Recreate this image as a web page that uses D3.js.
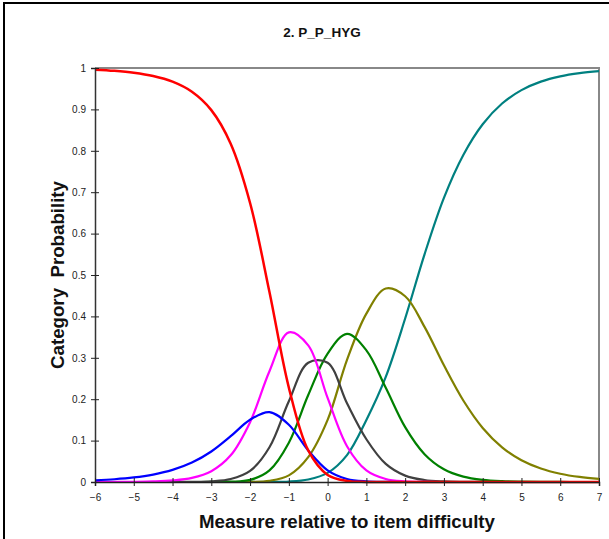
<!DOCTYPE html>
<html>
<head>
<meta charset="utf-8">
<script src="https://cdn.jsdelivr.net/npm/d3@7"></script>
<style>
  html, body { margin: 0; padding: 0; background: #fff; }
  svg { display: block; font-family: Arial, "Liberation Sans", sans-serif; }
</style>
</head>
<body>
<div id="stage"></div>
<script>
// measure (logits relative to item difficulty), sampled every 0.5
var measures = [-6, -5.5, -5, -4.5, -4, -3.5, -3, -2.5, -2, -1.5, -1, -0.5, 0, 0.5, 1, 1.5, 2, 2.5, 3, 3.5, 4, 4.5, 5, 5.5, 6, 6.5, 7];

// category probabilities
var cat0 = [0.9959, 0.9931, 0.9885, 0.9806, 0.9669, 0.9426, 0.8983, 0.8171, 0.6740, 0.4590, 0.2281, 0.0762, 0.0171, 0.0027, 0.0003, 0, 0, 0, 0, 0, 0, 0, 0, 0, 0, 0, 0];
var cat1 = [0.0041, 0.0067, 0.0110, 0.0180, 0.0292, 0.0469, 0.0737, 0.1106, 0.1504, 0.1689, 0.1383, 0.0762, 0.0282, 0.0074, 0.0014, 0.0002, 0, 0, 0, 0, 0, 0, 0, 0, 0, 0, 0];
var cat2 = [0.0001, 0.0002, 0.0005, 0.0014, 0.0038, 0.0101, 0.0261, 0.0644, 0.1445, 0.2675, 0.3613, 0.3300, 0.2030, 0.0864, 0.0279, 0.0072, 0.0015, 0.0003, 0, 0, 0, 0, 0, 0, 0, 0, 0];
var cat3 = [0, 0, 0, 0, 0.0001, 0.0004, 0.0018, 0.0072, 0.0267, 0.0840, 0.1950, 0.2880, 0.2880, 0.1900, 0.1033, 0.0437, 0.0154, 0.0047, 0.0013, 0.0003, 0.0001, 0, 0, 0, 0, 0, 0];
var cat4 = [0, 0, 0, 0, 0, 0, 0.0001, 0.0007, 0.0050, 0.0280, 0.0950, 0.2100, 0.3100, 0.3580, 0.3180, 0.2275, 0.1324, 0.0671, 0.0306, 0.0130, 0.0052, 0.0020, 0.0008, 0.0003, 0.0001, 0, 0];
var cat5 = [0, 0, 0, 0, 0, 0, 0, 0, 0.0004, 0.0030, 0.0160, 0.0600, 0.1500, 0.2950, 0.4067, 0.4674, 0.4487, 0.3746, 0.2818, 0.1968, 0.1306, 0.0838, 0.0526, 0.0326, 0.0200, 0.0122, 0.0075];
var cat6 = [0, 0, 0, 0, 0, 0, 0, 0, 0, 0.0002, 0.0010, 0.0060, 0.0220, 0.0650, 0.1500, 0.2540, 0.3950, 0.5500, 0.6863, 0.7899, 0.8641, 0.9142, 0.9466, 0.9671, 0.9799, 0.9877, 0.9925];

var seriesColors = ['#ff0000', '#0000ff', '#ff00ff', '#404040', '#008000', '#808000', '#008080'];

var xTicks = [-6, -5, -4, -3, -2, -1, 0, 1, 2, 3, 4, 5, 6, 7];
var yTicks = [0, 0.1, 0.2, 0.3, 0.4, 0.5, 0.6, 0.7, 0.8, 0.9, 1];
var yTickLabels = ['0', '0.1', '0.2', '0.3', '0.4', '0.5', '0.6', '0.7', '0.8', '0.9', '1'];

var chartTitle = '2. P_P_HYG';
var xTitle = 'Measure relative to item difficulty';
var yTitle = 'Category  Probability';

var width = 609, height = 539;
var plot = {left: 95, right: 599, top: 68, bottom: 482};

var svg = d3.select('#stage').append('svg')
	.attr('width', width)
	.attr('height', height);

svg.append('rect').attr('width', width).attr('height', height).attr('fill', '#fff');

// outer chart frame (left + top visible)
svg.append('path')
	.attr('d', 'M4,' + height + 'V3H' + width)
	.attr('fill', 'none')
	.attr('stroke', '#000')
	.attr('stroke-width', 2);

var x = d3.scaleLinear().domain([-6, 7]).range([plot.left, plot.right]);
var y = d3.scaleLinear().domain([0, 1]).range([plot.bottom, plot.top]);

// gray plot border, top and right
svg.append('path')
	.attr('d', 'M' + plot.left + ',' + plot.top + 'H' + plot.right + 'V' + plot.bottom)
	.attr('fill', 'none')
	.attr('stroke', '#888')
	.attr('stroke-width', 2);

// curves, drawn last category first so red ends on top
var cats = [cat0, cat1, cat2, cat3, cat4, cat5, cat6];
var line = d3.line()
	.x(function(d) { return x(d[0]); })
	.y(function(d) { return y(d[1]); })
	.curve(d3.curveCatmullRom.alpha(0.5));

var curves = cats.map(function(vals, i) {
	return {color: seriesColors[i], pts: measures.map(function(m, k) { return [m, vals[k]]; })};
}).reverse();

svg.append('g').selectAll('path')
	.data(curves)
	.enter()
	.append('path')
	.attr('d', function(d) { return line(d.pts); })
	.attr('fill', 'none')
	.attr('stroke', function(d) { return d.color; })
	.attr('stroke-width', function(d) { return d.color === '#ff0000' ? 2.5 : 2.2; })
	.attr('stroke-linejoin', 'round');

// axes
var yAxis = d3.axisLeft(y)
	.tickValues(yTicks)
	.tickSize(4)
	.tickPadding(5)
	.tickFormat(function(d, i) { return yTickLabels[i]; });

var gy = svg.append('g')
	.attr('transform', 'translate(' + plot.left + ',0)')
	.call(yAxis);
gy.select('.domain').attr('stroke', '#333').attr('stroke-width', 1.5);
gy.selectAll('.tick line').attr('x1', 4).attr('stroke', '#222');
gy.selectAll('.tick text').attr('font-size', 10).attr('fill', '#222').style('font-family', 'Arial, "Liberation Sans", sans-serif');

var xAxis = d3.axisBottom(x)
	.tickValues(xTicks)
	.tickSize(4)
	.tickPadding(8)
	.tickFormat(d3.format('d'));

var gx = svg.append('g')
	.attr('transform', 'translate(0,' + plot.bottom + ')')
	.call(xAxis);
gx.select('.domain').attr('stroke', '#222').attr('stroke-width', 1.5);
gx.selectAll('.tick line').attr('y1', -4).attr('stroke', '#222');
gx.selectAll('.tick text').attr('font-size', 10).attr('fill', '#222').style('font-family', 'Arial, "Liberation Sans", sans-serif');

// titles
svg.append('text')
	.attr('x', 322)
	.attr('y', 37)
	.attr('text-anchor', 'middle')
	.attr('font-size', 13.5)
	.attr('font-weight', 'bold')
	.attr('fill', '#111')
	.text(chartTitle);

svg.append('text')
	.attr('x', (plot.left + plot.right) / 2)
	.attr('y', 528)
	.attr('text-anchor', 'middle')
	.attr('font-size', 18.7)
	.attr('font-weight', 'bold')
	.attr('fill', '#111')
	.text(xTitle);

svg.append('text')
	.attr('transform', 'translate(64,' + ((plot.top + plot.bottom) / 2) + ') rotate(-90)')
	.attr('text-anchor', 'middle')
	.attr('font-size', 18.7)
	.attr('font-weight', 'bold')
	.attr('fill', '#111')
	.style('white-space', 'pre')
	.text(yTitle);
</script>
</body>
</html>
